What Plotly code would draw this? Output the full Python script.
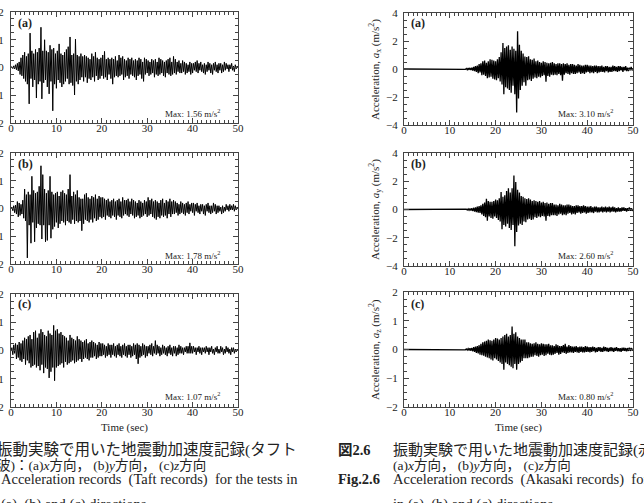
import numpy as np
import plotly.graph_objects as go

W, H = 644, 503

# ---------------- data (values in 0.01 m/s^2, sampled every 0.2 s) ----------------
dt = 0.2
taft_x = [0, 3, -4, 6, -5, 10, -8, 15, -12, 20,
          -25, 35, -30, 45, -40, 55, -50, 40, -60, 50,
          -131, 124, -40, 60, -70, 50, -45, 65, -110, 55,
          -60, 70, -50, 145, -113, 60, -55, 100, -45, 60,
          -70, 55, -95, 80, -50, 65, -156, 70, -60, 50,
          -75, 60, -45, 85, -55, 50, -70, 45, -60, 55,
          -50, 65, -40, 75, -60, 110, -55, 45, -65, 50,
          -99, 102, -50, 45, -60, 40, -45, 50, -35, 40,
          -50, 45, -35, 40, -55, 35, -40, 30, -45, 50,
          -35, 40, -50, 55, -30, 35, -45, 30, -40, 35,
          -30, 45, -40, 58, -35, 30, -45, 35, -25, 30,
          -40, 35, -60, 30, -35, 40, -30, 25, -35, 45,
          -30, 35, -25, 40, -45, 30, -35, 25, -30, 35,
          -40, 30, -25, 35, -30, 25, -35, 30, -45, 25,
          -30, 35, -25, 30, -40, 20, -50, 35, -25, 30,
          -20, 25, -30, 20, -25, 30, -20, 25, -35, 30,
          -25, 20, -30, 35, -25, 30, -20, 25, -30, 20,
          -35, 25, -20, 30, -25, 35, -30, 20, -25, 40,
          -20, 30, -25, 20, -15, 25, -20, 15, -20, 25,
          -15, 20, -25, 15, -20, 10, -15, 20, -25, 15,
          -20, 15, -10, 20, -15, 25, -20, 15, -10, 20,
          -15, 10, -20, 15, -25, 10, -15, 20, -10, 15,
          -20, 10, -25, 15, -10, 20, -15, 10, -20, 15,
          -10, 15, -20, 10, -15, 20, -10, 15, -5, 10,
          -15, 10, -5, 15, -10, 5, -15, 10, -5, 5, 0]
taft_y = [0, 5, -8, 10, -15, 12, -20, 25, -30, 20,
          -25, 15, -20, 30, -35, 70, -45, 50, -178, 60,
          -60, 50, -125, 116, -50, 65, -120, 55, -70, 60,
          -55, 80, -60, 154, -110, 122, -60, 70, -120, 55,
          -115, 65, -60, 116, -107, 60, -75, 50, -65, 55,
          -50, 60, -70, 45, -55, 60, -45, 65, -50, 55,
          -60, 50, -45, 70, -50, 122, -55, 45, -40, 60,
          -55, 50, -45, 65, -50, 40, -45, 35, -80, 35,
          -55, 50, -40, 55, -45, 40, -50, 35, -40, 45,
          -50, 40, -35, 50, -45, 35, -40, 45, -30, 40,
          -35, 40, -30, 35, -40, 30, -25, 35, -30, 25,
          -35, 30, -25, 35, -30, 25, -40, 30, -25, 35,
          -30, 25, -35, 40, -25, 30, -20, 30, -25, 35,
          -30, 25, -20, 35, -25, 30, -35, 25, -30, 20,
          -25, 30, -35, 25, -30, 20, -25, 30, -20, 25,
          -30, 40, -25, 30, -20, 35, -30, 25, -35, 30,
          -40, 25, -30, 20, -35, 30, -25, 35, -30, 20,
          -25, 30, -35, 25, -20, 35, -30, 25, -20, 30,
          -20, 25, -15, 20, -25, 15, -20, 25, -15, 20,
          -20, 15, -25, 20, -15, 25, -20, 15, -10, 20,
          -15, 20, -25, 15, -10, 20, -15, 10, -20, 15,
          -10, 15, -20, 10, -25, 15, -10, 20, -15, 10,
          -20, 10, -15, 20, -10, 15, -20, 10, -15, 10,
          -10, 5, -20, 10, -15, 5, -10, 15, -5, 10,
          -10, 15, -5, 10, -5, 15, -10, 10, -5, 5, 0]
taft_z = [0, 10, -15, 20, -10, 25, -30, 20, -25, 30,
          -35, 25, -40, 35, -30, 45, -50, 40, -35, 50,
          -45, 55, -60, 40, -55, 65, -50, 70, -60, 45,
          -55, 60, -70, 75, -50, 65, -80, 55, -60, 50,
          -65, 70, -97, 60, -75, 55, -60, 89, -107, 70,
          -60, 75, -55, 60, -50, 65, -45, 55, -60, 50,
          -40, 45, -50, 35, -45, 55, -40, 45, -35, 40,
          -45, 35, -40, 50, -35, 40, -30, 35, -40, 30,
          -30, 35, -25, 40, -30, 25, -35, 30, -25, 35,
          -25, 30, -20, 25, -30, 20, -25, 30, -20, 25,
          -20, 25, -15, 20, -25, 15, -20, 25, -15, 20,
          -25, 20, -15, 25, -20, 15, -25, 20, -15, 25,
          -20, 15, -25, 20, -15, 25, -20, 15, -25, 20,
          -15, 20, -25, 15, -20, 25, -15, 20, -30, 25,
          -47, 20, -25, 15, -20, 25, -15, 20, -25, 15,
          -20, 15, -10, 20, -15, 25, -20, 15, -10, 35,
          -15, 20, -10, 15, -20, 10, -15, 20, -10, 15,
          -15, 10, -20, 15, -10, 20, -15, 10, -20, 15,
          -10, 15, -20, 10, -15, 20, -10, 15, -10, 10,
          -15, 10, -5, 15, -10, 15, -10, 27, -10, 15,
          -10, 15, -5, 10, -15, 10, -5, 15, -10, 10,
          -15, 10, -5, 10, -10, 15, -5, 10, -15, 10,
          -5, 15, -10, 5, -15, 10, -5, 15, -10, 5,
          -10, 15, -5, 10, -15, 5, -10, 15, -5, 10,
          -10, 5, -15, 10, -5, 10, -10, 5, -5, 5, 0]

# Akasaki records: flat zero until 13 s, then sampled every 0.2 s
aka_t0 = 13.0
aka_x = [0, 2, -3, 4, -5, 6, -6, 8, -8, 10,
         -12, 15, -15, 20, -20, 25, -30, 35, -25, 40,
         -45, 55, -40, 60, -50, 45, -65, 55, -60, 70,
         -55, 65, -70, 60, -75, 55, -80, 70, -65, 85,
         -90, 120, -110, 186, -180, 150, -130, 160, -140, 170,
         -150, 138, -170, 160, -120, 145, -180, 130, -310, 270,
         -210, 174, -150, 130, -120, 110, -95, 90, -120, 85,
         -80, 90, -75, 70, -85, 65, -70, 75, -60, 55,
         -65, 60, -55, 50, -60, 45, -50, 55, -45, 50,
         -90, 45, -50, 40, -55, 45, -40, 50, -45, 40,
         -40, 35, -45, 40, -35, 40, -45, 35, -83, 40,
         -40, 35, -30, 40, -35, 30, -40, 35, -30, 35,
         -35, 30, -35, 25, -30, 35, -25, 30, -35, 25,
         -30, 25, -35, 30, -25, 30, -20, 25, -30, 25,
         -25, 20, -30, 25, -20, 25, -30, 20, -25, 20,
         -20, 25, -20, 15, -25, 20, -15, 20, -25, 15,
         -20, 15, -20, 25, -15, 20, -15, 15, -20, 20,
         -15, 20, -10, 15, -20, 15, -10, 20, -15, 10,
         -15, 10, -10, 15, -10, 5]
aka_y = [0, 2, -2, 3, -4, 5, -5, 6, -7, 8,
         -10, 12, -15, 15, -18, 20, -22, 25, -25, 30,
         -35, 40, -45, 50, -55, 76, -80, 60, -50, 55,
         -60, 55, -65, 60, -50, 70, -60, 65, -75, 80,
         -85, 124, -140, 90, -110, 100, -120, 130, -100, 150,
         -130, 120, -145, 150, -110, 240, -260, 195, -160, 140,
         -114, 120, -100, 95, -110, 90, -85, 80, -90, 75,
         -70, 80, -65, 70, -75, 60, -70, 65, -55, 60,
         -60, 55, -50, 60, -55, 50, -45, 55, -50, 45,
         -80, 50, -45, 40, -50, 45, -40, 45, -40, 35,
         -40, 35, -45, 30, -35, 40, -30, 35, -40, 30,
         -35, 30, -40, 35, -30, 35, -25, 30, -35, 25,
         -30, 25, -35, 30, -25, 30, -20, 25, -30, 25,
         -25, 30, -20, 25, -30, 20, -25, 20, -20, 25,
         -20, 15, -25, 20, -15, 20, -20, 15, -20, 15,
         -15, 20, -20, 15, -15, 20, -20, 15, -15, 20,
         -20, 15, -15, 20, -15, 15, -20, 10, -15, 15,
         -15, 10, -15, 15, -10, 15, -10, 10, -15, 10,
         -10, 15, -10, 10, -10, 5]
aka_z = [0, 1, -1, 2, -2, 3, -3, 4, -4, 5,
         -6, 8, -8, 10, -12, 12, -14, 15, -18, 20,
         -20, 25, -22, 28, -25, 30, -28, 35, -30, 32,
         -35, 30, -38, 35, -30, 40, -35, 38, -40, 35,
         -45, 40, -50, 45, -70, 50, -45, 55, -50, 45,
         -55, 50, -60, 80, -65, 55, -50, 60, -70, 45,
         -50, 40, -45, 35, -40, 35, -30, 35, -30, 25,
         -30, 25, -28, 22, -25, 20, -25, 22, -20, 25,
         -22, 20, -25, 18, -20, 22, -18, 20, -22, 18,
         -20, 18, -15, 20, -18, 15, -20, 15, -18, 12,
         -15, 18, -12, 15, -18, 12, -15, 12, -10, 15,
         -12, 20, -15, 10, -12, 15, -10, 12, -10, 10,
         -12, 10, -8, 12, -10, 8, -12, 10, -8, 10,
         -10, 8, -10, 12, -8, 10, -8, 8, -10, 8,
         -8, 10, -6, 8, -10, 6, -8, 8, -6, 8,
         -8, 6, -8, 10, -6, 8, -6, 6, -8, 6,
         -6, 8, -6, 6, -8, 6, -5, 8, -6, 5,
         -6, 5, -8, 6, -5, 6, -5, 5, -6, 5,
         -5, 6, -5, 5, -4, 3]

panel_labels = ["(a)", "(b)", "(c)"]
taft_max = ["1.56", "1.78", "1.07"]
aka_max = ["3.10", "2.60", "0.80"]
comp = ["x", "y", "z"]
x_ticks = [0, 10, 20, 30, 40, 50]

# ---------------- helpers ----------------
def fx(p):
    return p / W

def fy(p):
    return 1 - p / H

SERIF = "Liberation Serif, Noto Sans CJK JP"

left_rows = [(12, 123), (153, 264), (294, 407)]
right_rows = [(13, 125), (153, 266), (292, 407)]
LX = (11, 238)
RX = (404, 633)

fig = go.Figure()

taft = [taft_x, taft_y, taft_z]
aka = [aka_x, aka_y, aka_z]

for i in range(3):
    v = np.array(taft[i]) / 100.0
    t = np.arange(len(v)) * dt
    fig.add_trace(go.Scatter(x=t, y=v, mode="lines",
                             line=dict(color="black", width=1.0),
                             xaxis=f"x{i+1}", yaxis=f"y{i+1}", showlegend=False))
for i in range(3):
    v = np.array(aka[i]) / 100.0
    t = aka_t0 + np.arange(len(v)) * dt
    tt = np.concatenate([[0.0], t])
    vv = np.concatenate([[0.0], v])
    fig.add_trace(go.Scatter(x=tt, y=vv, mode="lines",
                             line=dict(color="black", width=1.3),
                             xaxis=f"x{i+4}", yaxis=f"y{i+4}", showlegend=False))

axcommon = dict(showgrid=False, zeroline=False, showline=True, linecolor="#444",
                linewidth=1, mirror="allticks", ticks="inside", ticklen=5,
                automargin=False,
                tickcolor="#444", tickfont=dict(family=SERIF, size=11, color="#222"))

layout = dict(width=W, height=H, margin=dict(l=0, r=0, t=0, b=0, autoexpand=False),
              paper_bgcolor="white", plot_bgcolor="white", showlegend=False)

for i in range(6):
    left = i < 3
    r = i % 3
    top, bot = (left_rows if left else right_rows)[r]
    xd = LX if left else RX
    xa = dict(axcommon)
    xa.update(domain=[fx(xd[0]), fx(xd[1])], range=[0, 50], tickvals=x_ticks,
              anchor=f"y{i+1}", ticklabelstandoff=-5,
              minor=dict(dtick=1, ticklen=3, ticks="inside", tickcolor="#444"))
    ya = dict(axcommon)
    if left:
        ya.update(range=[-2, 2], tickvals=[-2, -1, 0, 1, 2], ticklabelstandoff=4,
                  minor=dict(dtick=0.25, ticklen=3, ticks="inside", tickcolor="#444"))
    else:
        ya.update(ticklabelstandoff=3)
        if r < 2:
            ya.update(range=[-4, 4], tickvals=[-4, -2, 0, 2, 4],
                      minor=dict(dtick=0.5, ticklen=3, ticks="inside", tickcolor="#444"))
        else:
            ya.update(range=[-2, 2], tickvals=[-2, -1, 0, 1, 2],
                      minor=dict(dtick=0.25, ticklen=3, ticks="inside", tickcolor="#444"))
    ya.update(domain=[fy(bot), fy(top)], anchor=f"x{i+1}")
    layout["xaxis" if i == 0 else f"xaxis{i+1}"] = xa
    layout["yaxis" if i == 0 else f"yaxis{i+1}"] = ya

fig.update_layout(**layout)

ann = []
def add(text, x, y, size=11, xanchor="left", yanchor="middle", angle=0, color="#222"):
    ann.append(dict(text=text, x=fx(x), y=fy(y), xref="paper", yref="paper",
                    showarrow=False, xanchor=xanchor, yanchor=yanchor,
                    textangle=angle, font=dict(family=SERIF, size=size, color=color)))

lab_y = [23, 164, 304]
max_y = [113, 255, 396]
for r in range(3):
    add(f"<b>{panel_labels[r]}</b>", 16, lab_y[r], size=12)
    add(f"<b>{panel_labels[r]}</b>", 409, lab_y[r], size=12)
    add(f"Max: {taft_max[r]} m/s<sup>2</sup>", 222, max_y[r], size=9, xanchor="right")
    add(f"Max: {aka_max[r]} m/s<sup>2</sup>", 615, max_y[r], size=9, xanchor="right")

ycent = [70, 210, 350]
for r in range(3):
    add(f"Acceleration, <i>a</i><sub>{comp[r]}</sub> (m/s<sup>2</sup>)", 375, ycent[r],
        size=11, xanchor="center", angle=-90)

add("Time (sec)", 124, 427, size=11, xanchor="center")
add("Time (sec)", 518, 427, size=11, xanchor="center")

# captions
add("振動実験で用いた地震動加速度記録(タフト", -5, 450, size=15.5)
add("波)：(a)<i>x</i>方向， (b)<i>y</i>方向， (c)<i>z</i>方向", -5, 465, size=13.5)
add("Acceleration records  (Taft records)  for the tests in", -1, 479, size=14.5)
add("(a), (b) and (c) directions", -1, 494, size=14.5, yanchor="top")

add("<b>図2.6</b>", 336, 450, size=14.5)
add("振動実験で用いた地震動加速度記録(赤崎", 391, 450, size=15)
add("(a)<i>x</i>方向， (b)<i>y</i>方向， (c)<i>z</i>方向", 391, 465, size=13.5)
add("<b>Fig.2.6</b>", 336, 479, size=14.5)
add("Acceleration records  (Akasaki records)  for the tests", 391, 479, size=14.5)
add("in (a), (b) and (c) directions", 391, 494, size=14.5, yanchor="top")

fig.update_layout(annotations=ann)
fig.write_html("out.html")
